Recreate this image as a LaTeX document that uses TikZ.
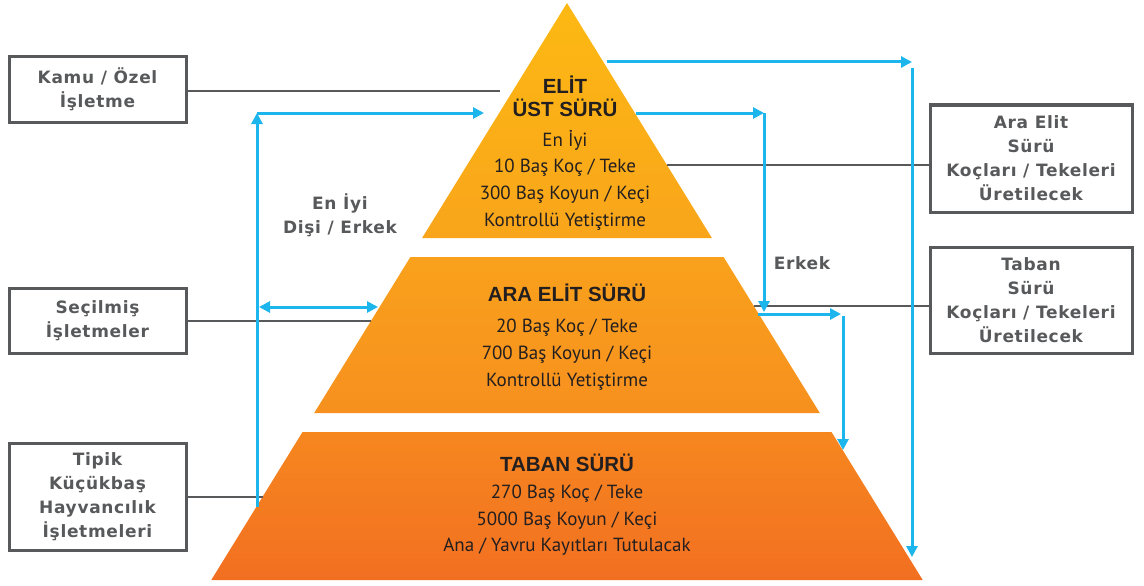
\documentclass[tikz,border=0pt]{standalone}
\usepackage{fontspec}
\setmainfont{Liberation Sans}
\newfontfamily\labfont[LetterSpace=4]{DejaVu Sans}
\newfontfamily\pyrfont{PT Sans}
\newfontfamily\pyrbold{Liberation Sans}
\usetikzlibrary{arrows.meta}
\definecolor{cyanline}{HTML}{1CB5EC}
\definecolor{grayline}{HTML}{58595B}
\definecolor{txtdark}{HTML}{231F20}
\definecolor{ta}{HTML}{FDB913}
\definecolor{tb}{HTML}{F9A51B}
\definecolor{ma}{HTML}{F9A11C}
\definecolor{mb}{HTML}{F7901E}
\definecolor{ba}{HTML}{F6871F}
\definecolor{bb}{HTML}{F26F21}
\begin{document}
\begin{tikzpicture}[x=1pt,y=-1pt,
  sidebox/.style={draw=grayline, line width=3pt, minimum width=177pt, align=center,
    font=\labfont\bfseries\fontsize{17}{24}\selectfont, text=grayline, inner sep=0pt},
  rightbox/.style={sidebox, minimum width=202pt},
  graylab/.style={align=center, font=\labfont\bfseries\fontsize{17}{24}\selectfont, text=grayline},
  tiertitle/.style={align=center, font=\pyrbold\bfseries\fontsize{20.5}{23}\selectfont, text=txtdark},
  tierbody/.style={align=center, font=\pyrfont\fontsize{19}{26.7}\selectfont, text=txtdark},
  grayconn/.style={draw=grayline, line width=2.5pt},
  blueconn/.style={draw=cyanline, line width=3pt},
  bluearrow/.style={blueconn, -{Triangle[length=11pt,width=11pt]}},
  bluedouble/.style={blueconn, {Triangle[length=11pt,width=11pt]}-{Triangle[length=11pt,width=11pt]}}
]
\useasboundingbox (0,0) rectangle (1144,586);

% pyramid tiers
\shade[top color=ta, bottom color=tb] (567,3) -- (711.9,238) -- (422.1,238) -- cycle;
\shade[top color=ma, bottom color=mb] (410.4,257) -- (723.6,257) -- (819.8,413) -- (314.2,413) -- cycle;
\shade[top color=ba, bottom color=bb] (302.5,432) -- (831.5,432) -- (922.7,580) -- (211.3,580) -- cycle;

% tier texts
\node[tiertitle] (t1title) at (565,96.5) {ELİT\\ÜST SÜRÜ};
\node[tierbody] (t1body) at (565,180) {En İyi\\10 Baş Koç / Teke\\300 Baş Koyun / Keçi\\Kontrollü Yetiştirme};
\node[tiertitle] (t2title) at (567,293) {ARA ELİT SÜRÜ};
\node[tierbody, font=\pyrfont\fontsize{19}{27}\selectfont] (t2body) at (567,355) {20 Baş Koç / Teke\\700 Baş Koyun / Keçi\\Kontrollü Yetiştirme};
\node[tiertitle] (t3title) at (567,463) {TABAN SÜRÜ};
\node[tierbody, font=\pyrfont\fontsize{19}{26.5}\selectfont] (t3body) at (567,520.5) {270 Baş Koç / Teke\\5000 Baş Koyun / Keçi\\Ana / Yavru Kayıtları Tutulacak};

% side boxes
\node[sidebox, minimum height=65pt] (kamu) at (97.5,89.5) {Kamu / Özel\\İşletme};
\node[sidebox, minimum height=65pt] (secil) at (97.5,320.5) {Seçilmiş\\İşletmeler};
\node[sidebox, minimum height=107pt] (tipik) at (97.5,496.5) {Tipik\\Küçükbaş\\Hayvancılık\\İşletmeleri};
\node[rightbox, minimum height=107pt] (arae) at (1031,158.5) {Ara Elit\\Sürü\\Koçları / Tekeleri\\Üretilecek};
\node[rightbox, minimum height=106pt] (taban) at (1031,300) {Taban\\Sürü\\Koçları / Tekeleri\\Üretilecek};

% free labels
\node[graylab] (eniyi) at (340,215.5) {En İyi\\Dişi / Erkek};
\node[graylab] (erkek) at (802,263) {Erkek};

% gray connector ends
\coordinate (gk) at (500,91);
\coordinate (gs) at (371,321);
\coordinate (gt) at (262.5,497);
\coordinate (ga) at (667,165);
\coordinate (gb) at (754,306);
\draw[grayconn] (gk -| kamu.east) -- (gk);
\draw[grayconn] (gs -| secil.east) -- (gs);
\draw[grayconn] (gt -| tipik.east) -- (gt);
\draw[grayconn] (ga -| arae.west) -- (ga);
\draw[grayconn] (gb -| taban.west) -- (gb);

% blue connectors
\coordinate (r1s) at (607,62);
\coordinate (r1c) at (912,62);
\coordinate (r1v) at (912,68);
\coordinate (r1e) at (912,557);
\draw[bluearrow] (r1s) -- (r1c);
\draw[bluearrow] (r1v) -- (r1e);

\coordinate (r2s) at (636,113);
\coordinate (r2c) at (764,113);
\coordinate (r2e) at (764,312);
\draw[bluearrow] (r2s) -- (r2c);
\draw[bluearrow] (r2c) -- (r2e);

\coordinate (r3s) at (758,314);
\coordinate (r3c) at (841,314);
\coordinate (r3v) at (843,316);
\coordinate (r3e) at (843,450);
\draw[bluearrow] (r3s) -- (r3c);
\draw[bluearrow] (r3v) -- (r3e);

\coordinate (l1s) at (257,507);
\coordinate (l1c) at (257,113);
\coordinate (l1e) at (484,113);
\draw[bluearrow] (l1s) -- (l1c);
\draw[bluearrow] (l1c) -- (l1e);

\coordinate (d1) at (259,307);
\coordinate (d2) at (378,307);
\draw[bluedouble] (d1) -- (d2);
\end{tikzpicture}
\end{document}
